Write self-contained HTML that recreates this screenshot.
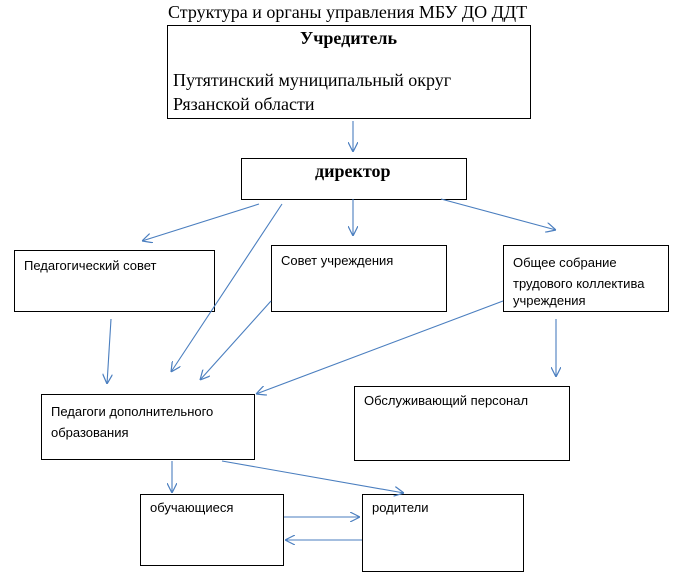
<!DOCTYPE html>
<html><head><meta charset="utf-8"><style>
body{margin:0;width:680px;height:576px;background:#fff;position:relative;overflow:hidden}
.b{position:absolute;border:1.3px solid #000;box-sizing:border-box;background:#fff}
.t{position:absolute;font-family:"Liberation Sans","Noto Sans CJK SC",sans-serif;font-size:13px;color:#000;white-space:nowrap}
.s{position:absolute;font-family:"Liberation Serif","Noto Serif CJK SC",serif;color:#000;white-space:nowrap}
svg{position:absolute;left:0;top:0}
</style></head><body>
<div class="s" style="left:168px;top:2px;font-size:18px">Структура и органы управления МБУ ДО ДДТ</div>
<div class="b" style="left:167px;top:25px;width:364px;height:94px"></div>
<div class="s" style="left:300px;top:28px;font-size:18px;font-weight:bold">Учредитель</div>
<div class="s" style="left:173px;top:70px;font-size:18px">Путятинский муниципальный округ</div>
<div class="s" style="left:173px;top:94px;font-size:18px">Рязанской области</div>
<div class="b" style="left:241px;top:158px;width:226px;height:42px"></div>
<div class="s" style="left:315px;top:161px;font-size:18px;font-weight:bold">директор</div>
<div class="b" style="left:14px;top:250px;width:201px;height:62px"></div>
<div class="t" style="left:24px;top:258px">Педагогический совет</div>
<div class="b" style="left:271px;top:245px;width:176px;height:67px"></div>
<div class="t" style="left:281px;top:253px">Совет учреждения</div>
<div class="b" style="left:503px;top:245px;width:166px;height:67px;overflow:hidden"></div>
<div class="t" style="left:513px;top:252px;line-height:21px">Общее собрание<br>трудового коллектива</div>
<div style="position:absolute;left:513px;top:293px;height:17px;overflow:hidden"><div class="t" style="position:static">учреждения</div></div>
<div class="b" style="left:41px;top:394px;width:214px;height:66px"></div>
<div class="t" style="left:51px;top:401px;line-height:21px">Педагоги дополнительного<br>образования</div>
<div class="b" style="left:354px;top:386px;width:216px;height:75px"></div>
<div class="t" style="left:364px;top:393px">Обслуживающий персонал</div>
<div class="b" style="left:140px;top:494px;width:144px;height:72px"></div>
<div class="t" style="left:150px;top:500px">обучающиеся</div>
<div class="b" style="left:362px;top:494px;width:162px;height:78px"></div>
<div class="t" style="left:372px;top:500px">родители</div>
<svg width="680" height="576">
<defs><marker id="a" viewBox="0 0 10 10" refX="10" refY="5" markerWidth="10" markerHeight="10" markerUnits="userSpaceOnUse" orient="auto"><path d="M0,0 L10,5 L0,10" fill="none" stroke="#4a7ebf" stroke-width="1.2"/></marker></defs>
<g stroke="#4a7ebf" stroke-width="1.1" fill="none" marker-end="url(#a)">
<line x1="353" y1="121" x2="353" y2="152"/>
<line x1="259" y1="204" x2="142" y2="241"/>
<line x1="282" y1="204" x2="171" y2="372"/>
<line x1="353" y1="199" x2="353" y2="236"/>
<line x1="441" y1="199" x2="556" y2="230"/>
<line x1="111" y1="319" x2="107" y2="384"/>
<line x1="271" y1="301" x2="200" y2="380"/>
<line x1="503" y1="301" x2="256" y2="394"/>
<line x1="556" y1="319" x2="556" y2="377"/>
<line x1="172" y1="461" x2="172" y2="493"/>
<line x1="222" y1="461" x2="404" y2="493"/>
<line x1="284" y1="517" x2="360" y2="517"/>
<line x1="362" y1="540" x2="285" y2="540"/>
</g></svg>
</body></html>
